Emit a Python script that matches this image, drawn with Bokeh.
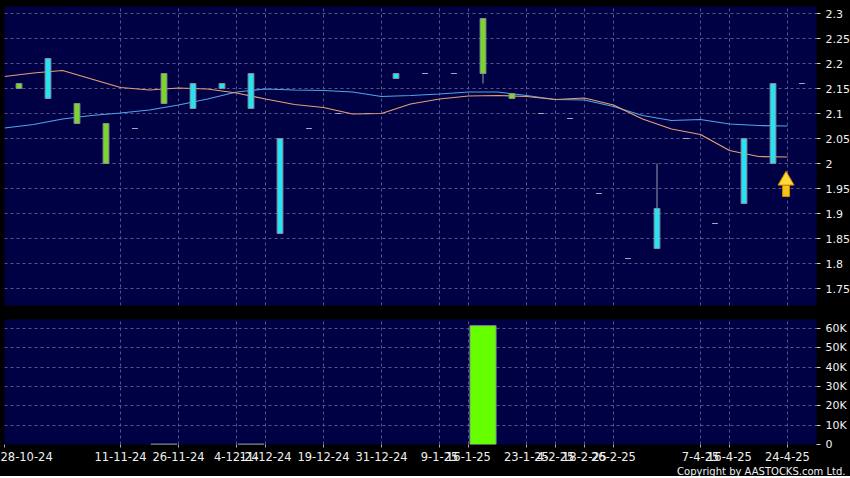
from bokeh.plotting import figure
from bokeh.models import Range1d, FixedTicker, Title
from bokeh.layouts import column
from bokeh.embed import file_html
from bokeh.resources import INLINE

# ---------------- data ----------------
idx = list(range(28))
opens  = [2.15, 2.21, 2.08, 2.00, 2.07, 2.12, 2.16, 2.16, 2.18, 2.05, 2.07, 2.10, 2.10, 2.18,
          2.18, 2.18, 2.18, 2.13, 2.10, 2.09, 1.94, 1.81, 1.91, 2.05, 1.88, 2.05, 2.16, 2.16]
closes = [2.16, 2.13, 2.12, 2.08, 2.07, 2.18, 2.11, 2.15, 2.11, 1.86, 2.07, 2.10, 2.10, 2.17,
          2.18, 2.18, 2.29, 2.14, 2.10, 2.09, 1.94, 1.81, 1.83, 2.05, 1.88, 1.92, 2.00, 2.16]
highs  = [2.16, 2.21, 2.12, 2.08, 2.07, 2.18, 2.16, 2.16, 2.18, 2.05, 2.07, 2.10, 2.10, 2.18,
          2.18, 2.18, 2.29, 2.14, 2.10, 2.09, 1.94, 1.81, 2.00, 2.05, 1.88, 2.05, 2.16, 2.16]
lows   = [2.15, 2.13, 2.08, 2.00, 2.07, 2.12, 2.11, 2.15, 2.11, 1.86, 2.07, 2.10, 2.10, 2.17,
          2.18, 2.18, 2.16, 2.13, 2.10, 2.09, 1.94, 1.81, 1.83, 2.05, 1.88, 1.92, 2.00, 2.16]
volume = [0, 0, 0, 0, 0, 250, 0, 0, 250, 0, 0, 0, 0, 0,
          0, 0, 61500, 0, 0, 0, 0, 0, 0, 0, 0, 0, 0, 0]

# moving averages, sampled at the boundaries between points (x = i - 0.5)
ma_short = [2.174, 2.181, 2.186, 2.169, 2.152, 2.147, 2.151, 2.149, 2.141, 2.129, 2.118, 2.112,
            2.099, 2.100, 2.119, 2.129, 2.135, 2.136, 2.134, 2.128, 2.131, 2.117, 2.089, 2.069,
            2.058, 2.026, 2.014, 2.013]
ma_long  = [2.071, 2.078, 2.089, 2.096, 2.101, 2.107, 2.117, 2.129, 2.143, 2.149, 2.147, 2.146,
            2.143, 2.134, 2.136, 2.139, 2.143, 2.143, 2.136, 2.128, 2.127, 2.114, 2.096, 2.086,
            2.088, 2.079, 2.076, 2.075]

date_points = [0, 4, 6, 8, 9, 11, 13, 15, 16, 18, 19, 20, 21, 24, 25, 27]
date_labels = ["28-10-24", "11-11-24", "26-11-24", "4-12-24", "11-12-24", "19-12-24", "31-12-24",
               "9-1-25", "16-1-25", "23-1-25", "4-2-25", "18-2-25", "26-2-25", "7-4-25",
               "16-4-25", "24-4-25"]
price_ticks  = [1.75, 1.8, 1.85, 1.9, 1.95, 2.0, 2.05, 2.1, 2.15, 2.2, 2.25, 2.3]
price_labels = ["1.75", "1.8", "1.85", "1.9", "1.95", "2", "2.05", "2.1", "2.15", "2.2", "2.25", "2.3"]
vol_ticks  = [0, 10000, 20000, 30000, 40000, 50000, 60000]
vol_labels = ["0", "10K", "20K", "30K", "40K", "50K", "60K"]

arrow_x = [26.45]
arrow_head_y = [1.966]
arrow_shaft_y = [1.945]

# ---------------- styling ----------------
BG = "#000044"
GRID = "#55558a"
FONT = "DejaVu Sans"
CYAN = "#26E2F2"
GREEN = "#7BD62B"
VOLGREEN = "#66FF00"

boundaries = [d - 0.5 for d in date_points]
label_map = {b: l for b, l in zip(boundaries, date_labels)}


def style(fig):
    fig.background_fill_color = BG
    fig.border_fill_color = "black"
    fig.outline_line_color = None
    fig.xgrid.ticker = FixedTicker(ticks=boundaries)
    for g in (fig.xgrid, fig.ygrid):
        g.grid_line_color = GRID
        g.grid_line_dash = "3 3"
        g.grid_line_width = 1
    ax = fig.yaxis[0]
    ax.axis_line_color = None
    ax.major_tick_line_color = "#cccccc"
    ax.major_tick_in = 0
    ax.major_tick_out = 4
    ax.minor_tick_line_color = None
    ax.major_label_standoff = 5
    ax.major_label_text_color = "#f0f0f0"
    ax.major_label_text_font = FONT
    ax.major_label_text_font_size = "11px"


xr = Range1d(-0.5, 27.5)

# ---------------- price panel ----------------
p = figure(frame_width=812, frame_height=299, x_range=xr, y_range=Range1d(1.716, 2.314),
           output_backend="svg", toolbar_location=None, y_axis_location="right",
           min_border_left=4, min_border_right=34, min_border_top=6, min_border_bottom=7)
style(p)
p.xaxis.visible = False
p.yaxis.ticker = FixedTicker(ticks=price_ticks)
p.yaxis.major_label_overrides = {t: l for t, l in zip(price_ticks, price_labels)}
p.ygrid.ticker = FixedTicker(ticks=price_ticks)

ma_x = [i - 0.5 for i in idx]
p.line(ma_x, ma_long, line_color="#4FA6E6", line_width=1.2)
p.line(ma_x, ma_short, line_color="#E79E74", line_width=1.2)

body_x, body_top, body_bot, body_col = [], [], [], []
flat_x, flat_y = [], []
for i, o, c in zip(idx, opens, closes):
    if o == c:
        flat_x.append(i)
        flat_y.append(c)
    else:
        body_x.append(i)
        body_top.append(max(o, c))
        body_bot.append(min(o, c))
        body_col.append(GREEN if c > o else CYAN)

p.segment(x0=idx, y0=highs, x1=idx, y1=lows, line_color="#9a9aa6", line_width=1)
p.vbar(x=body_x, width=0.2, top=body_top, bottom=body_bot, fill_color=body_col,
       line_color="#8a8a99", line_width=1)
p.segment(x0=[x - 0.1 for x in flat_x], y0=flat_y, x1=[x + 0.1 for x in flat_x], y1=flat_y,
          line_color="#a8a8b8", line_width=1)

# yellow arrow marker
p.rect(x=arrow_x, y=arrow_shaft_y, width=7, height=11, width_units="screen",
       height_units="screen", fill_color="#F4C21A", line_color="#C98A00")
p.scatter(x=arrow_x, y=arrow_head_y, marker="triangle", size=16,
          fill_color="#FFD83A", line_color="#C98A00")

# ---------------- volume panel ----------------
v = figure(frame_width=812, frame_height=125, x_range=xr, y_range=Range1d(0, 64700),
           output_backend="svg", toolbar_location=None, y_axis_location="right",
           min_border_left=4, min_border_right=34, min_border_top=7, min_border_bottom=0)
style(v)
v.yaxis.ticker = FixedTicker(ticks=vol_ticks)
v.yaxis.major_label_overrides = {t: l for t, l in zip(vol_ticks, vol_labels)}
v.ygrid.ticker = FixedTicker(ticks=vol_ticks)

xa = v.xaxis[0]
xa.ticker = FixedTicker(ticks=boundaries)
xa.major_label_overrides = label_map
xa.axis_line_color = None
xa.major_tick_line_color = "#aaaaaa"
xa.major_tick_in = 0
xa.major_tick_out = 3
xa.minor_tick_line_color = None
xa.major_label_standoff = 4
xa.major_label_text_color = "#f0f0f0"
xa.major_label_text_font = FONT
xa.major_label_text_font_size = "11.5px"

vx = [i for i, vol in zip(idx, volume) if vol > 0]
vv = [vol for vol in volume if vol > 0]
v.vbar(x=vx, width=0.9, top=vv, bottom=0, fill_color=VOLGREEN, line_color="#8a8a99")

v.add_layout(Title(text="Copyright by AASTOCKS.com Ltd.", align="right", text_color="#f0f0f0",
                   text_font_size="10px", text_font_style="normal", text_font=FONT,
                   standoff=0, offset=-29), "below")

layout = column(p, v, spacing=0, styles={"background-color": "black"})
open("out.html", "w").write(file_html(layout, INLINE))
